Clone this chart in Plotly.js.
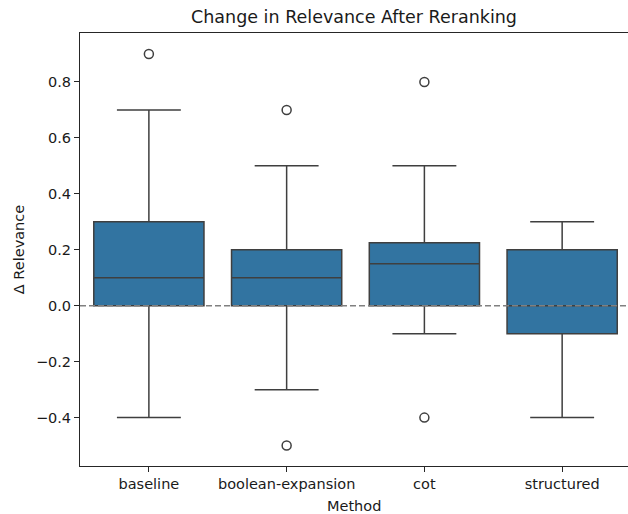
<!DOCTYPE html>
<html>
<head>
<meta charset="utf-8">
<script src="https://cdn.plot.ly/plotly-3.0.1.min.js"></script>
<style>html,body{margin:0;padding:0;background:#fff;overflow:hidden}</style>
</head>
<body>
<div id="chart" style="width:628px;height:514px"></div>
<script>
var methods = ["baseline", "boolean-expansion", "cot", "structured"];
var q1Vals = [0.0, 0.0, 0.0, -0.1];
var medianVals = [0.1, 0.1, 0.15, 0.0];
var q3Vals = [0.3, 0.2, 0.225, 0.2];
var lowerWhisker = [-0.4, -0.3, -0.1, -0.4];
var upperWhisker = [0.7, 0.5, 0.5, 0.3];
var outlierMethod = ["baseline", "boolean-expansion", "boolean-expansion", "cot", "cot"];
var outlierValue = [0.9, 0.7, -0.5, 0.8, -0.4];
var yTicks = [-0.4, -0.2, 0.0, 0.2, 0.4, 0.6, 0.8];

var boxTrace = {
  type: "box",
  x: methods,
  q1: q1Vals,
  median: medianVals,
  q3: q3Vals,
  lowerfence: lowerWhisker,
  upperfence: upperWhisker,
  boxpoints: false,
  width: 0.8,
  whiskerwidth: 0.58,
  fillcolor: "#3274a1",
  line: {color: "#3f3f3f", width: 1.5},
  hoverinfo: "skip",
  showlegend: false
};

var outlierTrace = {
  type: "scatter",
  mode: "markers",
  x: outlierMethod,
  y: outlierValue,
  marker: {symbol: "circle-open", size: 9, color: "#3f3f3f", line: {width: 1.5, color: "#3f3f3f"}},
  hoverinfo: "skip",
  showlegend: false
};

var layout = {
  width: 628,
  height: 514,
  margin: {l: 80, r: 0, t: 33, b: 48, pad: 0},
  paper_bgcolor: "#ffffff",
  plot_bgcolor: "#ffffff",
  font: {family: "DejaVu Sans, sans-serif", size: 14.5, color: "#1a1a1a"},
  title: {
    text: "Change in Relevance After Reranking",
    font: {size: 17.5, color: "#1a1a1a"},
    x: 0.5, xref: "paper", xanchor: "center",
    y: 1 - 17 / 514, yref: "container", yanchor: "middle"
  },
  xaxis: {
    type: "category",
    categoryarray: methods,
    range: [-0.5, 3.478],
    showgrid: false,
    zeroline: false,
    showline: true,
    mirror: true,
    linecolor: "#262626",
    linewidth: 1,
    ticks: "outside",
    ticklen: 5,
    tickcolor: "#262626",
    tickfont: {size: 14.5}
  },
  yaxis: {
    range: [-0.573, 0.975],
    tickvals: yTicks,
    ticktext: yTicks.map(function (v) { return v.toFixed(1).replace("-", "\u2212"); }),
    showgrid: false,
    zeroline: false,
    showline: true,
    linecolor: "#262626",
    linewidth: 1,
    ticks: "outside",
    ticklen: 5,
    tickcolor: "#262626",
    tickfont: {size: 14.5},
    title: {text: "\u0394 Relevance", font: {size: 14.5}, standoff: 7}
  },
  annotations: [{
    text: "Method",
    xref: "paper", x: 0.5, xanchor: "center",
    yref: "paper", y: 0, yanchor: "middle", yshift: -40,
    showarrow: false,
    font: {size: 14.5, color: "#1a1a1a"}
  }],
  shapes: [{
    type: "line",
    xref: "paper", x0: 0, x1: 1,
    yref: "y", y0: 0, y1: 0,
    layer: "above",
    line: {color: "#808080", width: 1.5, dash: "6px,3px"}
  }]
};

Plotly.newPlot("chart", [boxTrace, outlierTrace], layout, {displayModeBar: false, staticPlot: true});
</script>
</body>
</html>
